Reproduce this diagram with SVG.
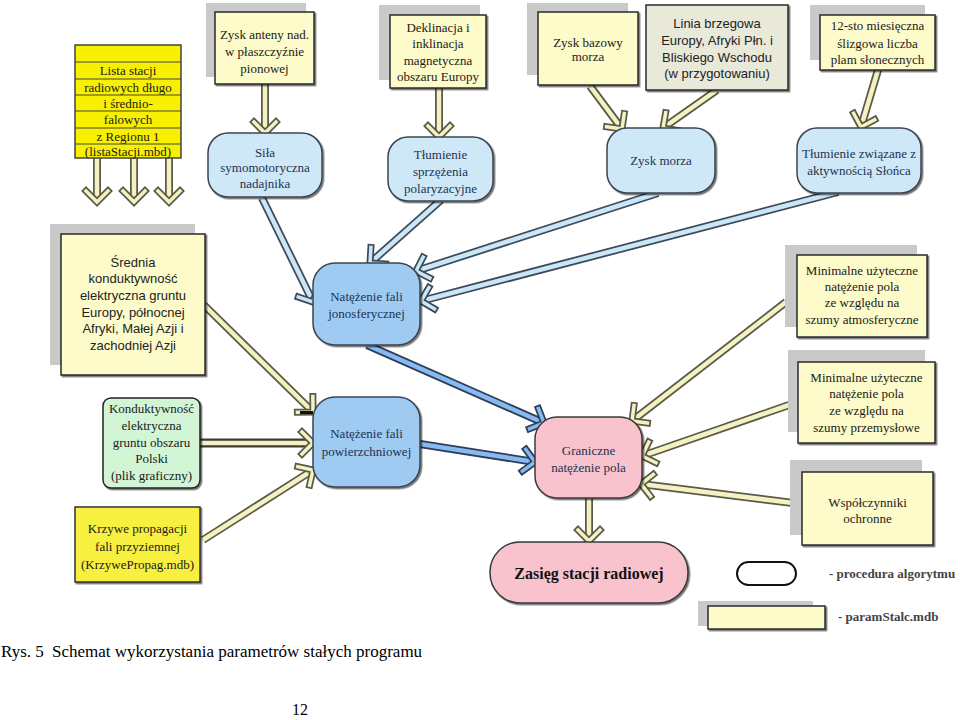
<svg xmlns="http://www.w3.org/2000/svg" width="960" height="720" viewBox="0 0 960 720">
<style>
.sh{fill:#c9c9c9}
.box{fill:#fdfbc9;stroke:#2a2a2a;stroke-width:1.5;filter:url(#ds)}
.bl{fill:#cfe8f8;stroke:#3a4350;stroke-width:1.5;filter:url(#ds)}
.bl2{fill:#9fcaf2;stroke:#3a4350;stroke-width:1.5;filter:url(#ds)}
.pk{fill:#f8c3cc;stroke:#3a3a3a;stroke-width:1.5;filter:url(#ds)}
.t{font-family:"Liberation Serif","Times New Roman",serif;font-size:13px;fill:#1a1a1a;text-anchor:middle}
.tb{font-family:"Liberation Serif","Times New Roman",serif;font-size:13px;fill:#1d3350;text-anchor:middle}
.s{font-family:"Liberation Sans",Arial,sans-serif;font-size:13px;fill:#222;text-anchor:middle}
.o{fill:none;stroke-width:8}
.i{fill:none;stroke-width:4.5}
.y .o{stroke:#5a5a48}.y .i{stroke:#f4f2c2;marker-end:url(#hy)}
.lb .o{stroke:#3c4a5a}.lb .i{stroke:#cbe6f6;marker-end:url(#hlb)}
.db .o{stroke:#2e3e58}.db .i{stroke:#86baf0;marker-end:url(#hdb)}
.leg{font-family:"Liberation Serif","Times New Roman",serif;font-size:13px;font-weight:bold;fill:#444}
.cap{font-family:"Liberation Serif","Times New Roman",serif;font-size:17px;fill:#000}
</style>
<defs>
<filter id="ds" x="-10%" y="-10%" width="130%" height="130%"><feDropShadow dx="1.5" dy="1.5" stdDeviation="0.7" flood-color="#000" flood-opacity="0.55"/></filter>
<marker id="hy" markerUnits="userSpaceOnUse" orient="auto" markerWidth="34" markerHeight="34" viewBox="-17 -17 34 34" refX="0" refY="0" overflow="visible">
<path d="M-11,-11 L0,0 L-11,11" fill="none" stroke="#5a5a48" stroke-width="7" stroke-linecap="square"/>
<path d="M-11,-11 L0,0 L-11,11" fill="none" stroke="#f4f2c2" stroke-width="3.5" stroke-linecap="square"/>
</marker>
<marker id="hlb" markerUnits="userSpaceOnUse" orient="auto" markerWidth="34" markerHeight="34" viewBox="-17 -17 34 34" refX="0" refY="0" overflow="visible">
<path d="M-11,-11 L0,0 L-11,11" fill="none" stroke="#3c4a5a" stroke-width="7" stroke-linecap="square"/>
<path d="M-11,-11 L0,0 L-11,11" fill="none" stroke="#cbe6f6" stroke-width="3.5" stroke-linecap="square"/>
</marker>
<marker id="hdb" markerUnits="userSpaceOnUse" orient="auto" markerWidth="34" markerHeight="34" viewBox="-17 -17 34 34" refX="0" refY="0" overflow="visible">
<path d="M-11,-11 L0,0 L-11,11" fill="none" stroke="#2e3e58" stroke-width="7" stroke-linecap="square"/>
<path d="M-11,-11 L0,0 L-11,11" fill="none" stroke="#86baf0" stroke-width="3.5" stroke-linecap="square"/>
</marker>
</defs>
<rect width="960" height="720" fill="#fff"/>

<g id="connectors">
<g class="y"><path class="o" d="M97,158 L97,202"/><path class="i" d="M97,158 L97,202"/></g>
<g class="y"><path class="o" d="M134,158 L134,202"/><path class="i" d="M134,158 L134,202"/></g>
<g class="y"><path class="o" d="M169,158 L169,202"/><path class="i" d="M169,158 L169,202"/></g>
<g class="y"><path class="o" d="M265,84 L265,133"/><path class="i" d="M265,84 L265,133"/></g>
<g class="y"><path class="o" d="M439,88 L439,137"/><path class="i" d="M439,88 L439,137"/></g>
<g class="y"><path class="o" d="M590,86 L622,129"/><path class="i" d="M590,86 L622,129"/></g>
<g class="y"><path class="o" d="M717,90 L663,128"/><path class="i" d="M717,90 L663,128"/></g>
<g class="y"><path class="o" d="M878,70 L861,127"/><path class="i" d="M878,70 L861,127"/></g>
<g class="lb"><path class="o" d="M262,198 L313,302"/><path class="i" d="M262,198 L313,302"/></g>
<g class="lb"><path class="o" d="M441,200 L370,263"/><path class="i" d="M441,200 L370,263"/></g>
<g class="lb"><path class="o" d="M658,193 L416,271"/><path class="i" d="M658,193 L416,271"/></g>
<g class="lb"><path class="o" d="M838,192 L421,301"/><path class="i" d="M838,192 L421,301"/></g>
<g class="y"><path class="o" d="M204,305 L313,412"/><path class="i" d="M204,305 L313,412"/></g>
<rect x="300" y="411" width="13" height="3" fill="#111"/>
<g class="y"><path class="o" d="M200,443 L313,443" style="stroke:#3d3d30;stroke-width:9"/><path class="i" d="M200,443 L313,443"/></g>
<g class="y"><path class="o" d="M203,540 L313,470"/><path class="i" d="M203,540 L313,470"/></g>
<g class="db"><path class="o" d="M367,345 L544,423"/><path class="i" d="M367,345 L544,423"/></g>
<g class="db"><path class="o" d="M420,444 L535,462"/><path class="i" d="M420,444 L535,462"/></g>
<g class="y"><path class="o" d="M786,302 L632,421"/><path class="i" d="M786,302 L632,421"/></g>
<g class="y"><path class="o" d="M789,405 L642,456"/><path class="i" d="M789,405 L642,456"/></g>
<g class="y"><path class="o" d="M793,503 L641,484"/><path class="i" d="M793,503 L641,484"/></g>
<g class="y"><path class="o" d="M589,498 L589,541"/><path class="i" d="M589,498 L589,541"/></g>
</g>

<g id="n-lista">
<rect x="75" y="45" width="106" height="113" fill="#f7f000" stroke="#444" stroke-width="1.5"/>
<path d="M75,62H181M75,79H181M75,95H181M75,111H181M75,128H181M75,144H181" stroke="#444" stroke-width="1"/>
<text class="t" x="128" y="75">Lista stacji</text>
<text class="t" x="128" y="91.5">radiowych długo</text>
<text class="t" x="128" y="107.5">i średnio-</text>
<text class="t" x="128" y="124">falowych</text>
<text class="t" x="128" y="140.5">z Regionu 1</text>
<text class="t" x="128" y="155.5">(listaStacji.mbd)</text>
</g>

<g id="n-zysk-anteny">
<rect class="sh" x="206" y="3" width="100" height="74"/>
<rect class="box" x="215" y="12" width="99" height="72"/>
<text class="t" x="264.5" y="38.5">Zysk anteny nad.</text>
<text class="t" x="264.5" y="55.5">w płaszczyźnie</text>
<text class="t" x="264.5" y="72.5">pionowej</text>
</g>

<g id="n-sila">
<rect class="bl" x="208" y="133" width="114" height="64" rx="20"/>
<text class="tb" x="265" y="156.5">Siła</text>
<text class="tb" x="265" y="171.5">symomotoryczna</text>
<text class="tb" x="265" y="187.5">nadajnika</text>
</g>

<g id="n-deklinacja">
<rect class="sh" x="379" y="5" width="101" height="75"/>
<rect class="box" x="390" y="15" width="96" height="73"/>
<text class="t" x="438" y="31.5">Deklinacja i</text>
<text class="t" x="438" y="47.5">inklinacja</text>
<text class="t" x="438" y="64.5">magnetyczna</text>
<text class="t" x="438" y="80.5">obszaru Europy</text>
</g>

<g id="n-tlumienie-sprz">
<rect class="bl" x="388" y="137" width="105" height="64" rx="20"/>
<text class="tb" x="440.5" y="158.5">Tłumienie</text>
<text class="tb" x="440.5" y="175.5">sprzężenia</text>
<text class="tb" x="440.5" y="192.5">polaryzacyjne</text>
</g>

<g id="n-zysk-bazowy">
<rect class="sh" x="527" y="3" width="101" height="72"/>
<rect class="box" x="538" y="12" width="100" height="73"/>
<text class="t" x="588" y="46.5">Zysk bazowy</text>
<text class="t" x="588" y="60.5">morza</text>
</g>

<g id="n-linia">
<rect x="646" y="5" width="142" height="85" fill="#e9e9d9" stroke="#2a2a2a" stroke-width="1.5" filter="url(#ds)"/>
<text class="s" x="717" y="27.5">Linia brzegowa</text>
<text class="s" x="717" y="44.5">Europy, Afryki Płn. i</text>
<text class="s" x="717" y="61.5">Bliskiego Wschodu</text>
<text class="s" x="717" y="77.5">(w przygotowaniu)</text>
</g>

<g id="n-12sto">
<rect class="sh" x="810" y="5" width="115" height="55"/>
<rect class="box" x="820" y="15" width="115" height="55"/>
<text class="t" x="877.5" y="29.5">12-sto miesięczna</text>
<text class="t" x="877.5" y="47.5">ślizgowa liczba</text>
<text class="t" x="877.5" y="63.5">plam słonecznych</text>
</g>

<g id="n-zysk-morza">
<rect class="bl" x="607" y="128" width="108" height="65" rx="20"/>
<text class="tb" x="661" y="164.5">Zysk morza</text>
</g>

<g id="n-tlumienie-slonca">
<rect class="bl" x="797" y="128" width="124" height="65" rx="20"/>
<text class="tb" x="859" y="157.5">Tłumienie związane z</text>
<text class="tb" x="859" y="174.5">aktywnością Słońca</text>
</g>

<g id="n-srednia">
<rect class="sh" x="50" y="224" width="145" height="141"/>
<rect class="box" x="61" y="234" width="144" height="141"/>
<text class="s" x="133" y="266.5">Średnia</text>
<text class="s" x="133" y="282.5">konduktywność</text>
<text class="s" x="133" y="299.5">elektryczna gruntu</text>
<text class="s" x="133" y="316.5">Europy, północnej</text>
<text class="s" x="133" y="332.5">Afryki, Małej Azji i</text>
<text class="s" x="133" y="349.5">zachodniej Azji</text>
</g>

<g id="n-jonosfer">
<rect class="bl2" x="313" y="263" width="107" height="82" rx="22"/>
<text class="tb" x="366.5" y="300.5">Natężenie fali</text>
<text class="tb" x="366.5" y="317.5">jonosferycznej</text>
</g>

<g id="n-konduktywnosc">
<rect x="103" y="398" width="97" height="90" rx="8" fill="#d2f5d6" stroke="#222" stroke-width="1.5" filter="url(#ds)"/>
<text class="t" x="151.5" y="412.5">Konduktywność</text>
<text class="t" x="151.5" y="429.5">elektryczna</text>
<text class="t" x="151.5" y="446.5">gruntu obszaru</text>
<text class="t" x="151.5" y="462.5">Polski</text>
<text class="t" x="151.5" y="480">(plik graficzny)</text>
</g>

<g id="n-powierzch">
<rect class="bl2" x="313" y="397" width="107" height="90" rx="22"/>
<text class="tb" x="366.5" y="438">Natężenie fali</text>
<text class="tb" x="366.5" y="456">powierzchniowej</text>
</g>

<g id="n-krzywe">
<rect x="75" y="507" width="125" height="75" fill="#f8f040" stroke="#333" stroke-width="1.5" filter="url(#ds)"/>
<text class="t" x="137.5" y="533">Krzywe propagacji</text>
<text class="t" x="137.5" y="551">fali przyziemnej</text>
<text class="t" x="137.5" y="569">(KrzywePropag.mdb)</text>
</g>

<g id="n-graniczne">
<rect class="pk" x="535" y="417" width="107" height="81" rx="22"/>
<text class="tb" x="588.5" y="454.5">Graniczne</text>
<text class="tb" x="588.5" y="471.5">natężenie pola</text>
</g>

<g id="n-zasieg">
<rect class="pk" x="490" y="542" width="198" height="61" rx="30"/>
<text class="t" x="589" y="579" style="font-size:16px;font-weight:bold;fill:#111">Zasięg stacji radiowej</text>
</g>

<g id="n-min-atm">
<rect class="sh" x="785" y="245" width="132" height="82"/>
<rect class="box" x="797" y="255" width="130" height="82"/>
<text class="t" x="862" y="274.5">Minimalne użyteczne</text>
<text class="t" x="862" y="290.5">natężenie pola</text>
<text class="t" x="862" y="306.5">ze względu na</text>
<text class="t" x="862" y="323.5">szumy atmosferyczne</text>
</g>

<g id="n-min-prz">
<rect class="sh" x="788" y="350" width="137" height="82"/>
<rect class="box" x="798" y="362" width="137" height="81"/>
<text class="t" x="866.5" y="381.5">Minimalne użyteczne</text>
<text class="t" x="866.5" y="397.5">natężenie pola</text>
<text class="t" x="866.5" y="414.5">ze względu na</text>
<text class="t" x="866.5" y="431.5">szumy przemysłowe</text>
</g>

<g id="n-wspolczynniki">
<rect class="sh" x="790" y="460" width="132" height="75"/>
<rect class="box" x="802" y="472" width="131" height="73"/>
<text class="t" x="867.5" y="506.5">Współczynniki</text>
<text class="t" x="867.5" y="522.5">ochronne</text>
</g>

<g id="legend">
<rect x="737" y="562" width="59" height="23" rx="11.5" fill="#fff" stroke="#111" stroke-width="2"/>
<text class="leg" x="829" y="578">- procedura algorytmu</text>
<rect class="sh" x="698" y="601" width="115" height="25"/>
<rect class="box" x="708" y="606" width="117" height="23"/>
<text class="leg" x="838" y="621">- paramStalc.mdb</text>
</g>

<text class="cap" x="1" y="657">Rys. 5<tspan x="52">Schemat wykorzystania parametrów stałych programu</tspan></text>
<text class="cap" x="300" y="715" text-anchor="middle" style="font-size:16px">12</text>
</svg>
